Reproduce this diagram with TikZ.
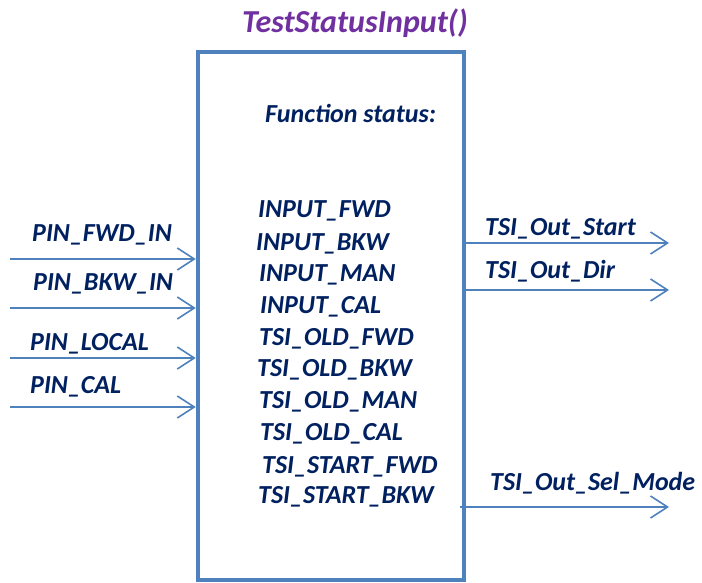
\documentclass[tikz,border=0pt]{standalone}
\usepackage{fontspec}
\setmainfont{Carlito}
\usetikzlibrary{arrows.meta}
\definecolor{lineblue}{HTML}{4F81BD}
\definecolor{textnavy}{HTML}{002060}
\definecolor{titlepurple}{HTML}{7030A0}
\begin{document}
\begin{tikzpicture}[x=1pt, y=-1pt,
    lbl/.style={text=textnavy, font=\fontsize{26}{30}\selectfont\bfseries\itshape, inner sep=0pt, anchor=base west},
    sig/.style={draw=lineblue, line width=1.6pt, -{Straight Barb[length=17pt,width=22pt]}}]
    \useasboundingbox (0,0) rectangle (702,583);
    % title and function block
    \node[text=titlepurple, font=\fontsize{32}{36}\selectfont\bfseries\itshape, inner sep=0pt, anchor=base] (title) at (355,33) {TestStatusInput()};
    \node[draw=lineblue, line width=4.5pt, minimum width=266pt, minimum height=528pt, inner sep=0pt] (box) at (331,316) {};
    \node[lbl] (status) at (265,123) {Function status:};
    % status list
    \node[lbl] (s1) at (258,218) {INPUT\_FWD};
    \node[lbl] (s2) at (256,250) {INPUT\_BKW};
    \node[lbl] (s3) at (259,281) {INPUT\_MAN};
    \node[lbl] (s4) at (260,313) {INPUT\_CAL};
    \node[lbl] (s5) at (259,345) {TSI\_OLD\_FWD};
    \node[lbl] (s6) at (257,376) {TSI\_OLD\_BKW};
    \node[lbl] (s7) at (259,408) {TSI\_OLD\_MAN};
    \node[lbl] (s8) at (260,440) {TSI\_OLD\_CAL};
    \node[lbl] (s9) at (262,473) {TSI\_START\_FWD};
    \node[lbl] (s10) at (258,503) {TSI\_START\_BKW};
    % inputs
    \node[lbl] (pfwd) at (32,241) {PIN\_FWD\_IN};
    \node[lbl] (pbkw) at (33,290) {PIN\_BKW\_IN};
    \node[lbl] (ploc) at (30,350) {PIN\_LOCAL};
    \node[lbl] (pcal) at (30,393) {PIN\_CAL};
    \coordinate (inA) at (10,259);
    \coordinate (inB) at (10,308);
    \coordinate (inC) at (10,358);
    \coordinate (inD) at (10,407);
    \draw[sig] (inA) -- (inA -| box.west);
    \draw[sig] (inB) -- (inB -| box.west);
    \draw[sig] (inC) -- (inC -| box.west);
    \draw[sig] (inD) -- (inD -| box.west);
    % outputs
    \node[lbl] (ostart) at (485,235) {TSI\_Out\_Start};
    \node[lbl] (odir) at (485,278) {TSI\_Out\_Dir};
    \node[lbl] (osel) at (490,490) {TSI\_Out\_Sel\_Mode};
    \coordinate (outA) at (669,243);
    \coordinate (outB) at (669,290);
    \coordinate (outC) at (669,507);
    \draw[sig] (outA -| box.east) -- (outA);
    \draw[sig] (outB -| box.east) -- (outB);
    \draw[sig] ([xshift=-6pt]outC -| box.east) -- (outC);
\end{tikzpicture}
\end{document}
